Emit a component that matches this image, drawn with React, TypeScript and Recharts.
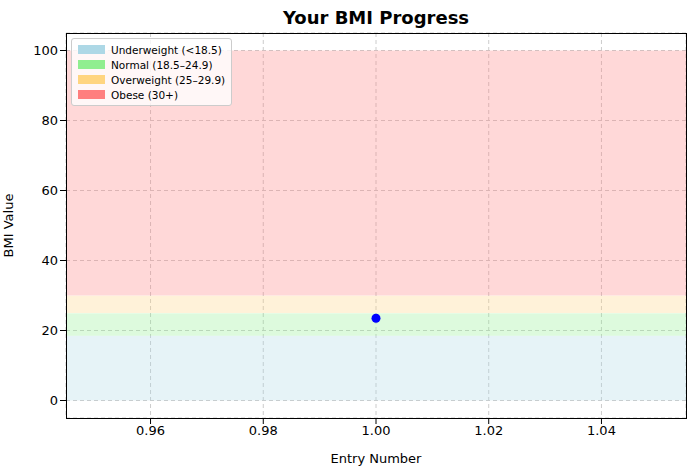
import React from "react";
import { ScatterChart, Scatter, XAxis, YAxis, CartesianGrid, ReferenceArea, Label } from "recharts";

const entries = [{ entry: 1.0, bmi: 23.5 }];
const xTicks = [0.96, 0.98, 1.0, 1.02, 1.04];
const yTicks = [0, 20, 40, 60, 80, 100];
const bands = [
  { name: "Underweight (<18.5)", from: 0, to: 18.5, color: "#ADD8E6" },
  { name: "Normal (18.5–24.9)", from: 18.5, to: 24.9, color: "#90EE90" },
  { name: "Overweight (25–29.9)", from: 25, to: 29.9, color: "#FFD580" },
  { name: "Obese (30+)", from: 30, to: 100, color: "#FF7F7F" },
];

const font = "'DejaVu Sans', sans-serif";

export default function App() {
  return (
    <div style={{ position: "absolute", left: 0, top: 0, width: 695, height: 471, background: "#fff", fontFamily: font }}>
      <div style={{ position: "absolute", left: 66, width: 620, top: 7, textAlign: "center", fontSize: 18, fontWeight: "bold" }}>
        Your BMI Progress
      </div>
      <ScatterChart width={695} height={471} margin={{ top: 33, right: 9, bottom: 0, left: 0 }}>
        <CartesianGrid stroke="#ccc" strokeDasharray="4 3" />
        {bands.map((b) => (
          <ReferenceArea key={b.name} y1={b.from} y2={b.to} fill={b.color} fillOpacity={0.3} stroke="none" />
        ))}
        <XAxis
          type="number" dataKey="entry" domain={[0.945, 1.055]} ticks={xTicks} allowDataOverflow
          tickFormatter={(v: number) => v.toFixed(2)} height={53} tick={{ fill: "#000", fontSize: 13 }}
          tickLine={{ stroke: "#000" }} axisLine={false}
        >
          <Label value="Entry Number" position="insideBottom" offset={8} style={{ fill: "#000", fontSize: 13 }} />
        </XAxis>
        <YAxis
          type="number" dataKey="bmi" domain={[-5, 105]} ticks={yTicks} allowDataOverflow width={66}
          tick={{ fill: "#000", fontSize: 13 }} tickLine={{ stroke: "#000" }} axisLine={false}
        >
          <Label value="BMI Value" angle={-90} position="insideLeft" offset={8} style={{ fill: "#000", fontSize: 13, textAnchor: "middle" }} />
        </YAxis>
        <Scatter data={entries} fill="#0000FF" isAnimationActive={false} shape={(p: any) => <circle cx={p.cx} cy={p.cy} r={4.5} fill="#0000FF" />} />
      </ScatterChart>
      <div style={{ position: "absolute", left: 66, top: 33, width: 619, height: 384, border: "1px solid #000", pointerEvents: "none" }} />
      <div style={{ position: "absolute", left: 71, top: 38, padding: "3px 6px", background: "rgba(255,255,255,0.8)", border: "1px solid #ccc", borderRadius: 3, fontSize: 10.5 }}>
        {bands.map((b) => (
          <div key={b.name} style={{ display: "flex", alignItems: "center", height: 15 }}>
            <span style={{ width: 27, height: 9, background: b.color, marginRight: 6, display: "inline-block" }} />
            {b.name}
          </div>
        ))}
      </div>
    </div>
  );
}
